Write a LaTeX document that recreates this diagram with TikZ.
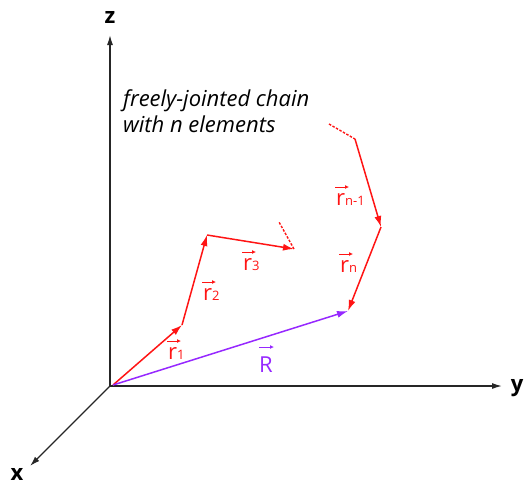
\documentclass[tikz,border=0pt]{standalone}
\usepackage{fontspec}
\setmainfont{Open Sans}
\usepackage{xcolor}
\usetikzlibrary{arrows.meta,positioning,calc}
\definecolor{chainred}{RGB}{255,20,20}
\definecolor{endpurple}{RGB}{150,40,255}
\newcommand{\sub}[1]{{\fontsize{13}{13}\selectfont #1}}

\begin{document}
\begin{tikzpicture}[
  x=1pt, y=-1pt,
  axis/.style={draw=black!85, line width=1.3pt, -{Latex[length=10pt,width=6pt]}},
  bond/.style={draw=chainred, line width=1.5pt, -{Latex[length=11pt,width=7pt]}},
  loose/.style={draw=chainred, line width=1.4pt, dash pattern=on 2.5pt off 1.5pt},
  lab/.style={text=chainred, font=\fontsize{22}{22}\selectfont, inner sep=0pt, anchor=base west},
  vecmark/.style={line width=1pt, -{Latex[length=4pt,width=4pt]}},
  axlab/.style={font=\bfseries\fontsize{22}{22}\selectfont, inner sep=0pt},
]
\useasboundingbox (0,0) rectangle (526,488);

% axes
\coordinate (O) at (110,386);
\coordinate (zend) at (110,35);
\coordinate (yend) at (502,386);
\coordinate (xend) at (30,466);
\draw[axis] (O) -- (zend);
\draw[axis] (O) -- (yend);
\draw[axis] (O) -- (xend);
\node[axlab] (zlab) at (110,17) {z};
\node[axlab] (ylab) at (517,388) {y};
\node[axlab] (xlab) at (17,474) {x};

% chain joints
\coordinate (p0) at (113,385);
\coordinate (p1) at (182,325);
\coordinate (p2) at (207,235);
\coordinate (p3) at (294,249);
\coordinate (q3) at (279,222);
\coordinate (qa) at (329,124);
\coordinate (pa) at (355,139);
\coordinate (pb) at (381,227);
\coordinate (pn) at (348,311);

\draw[bond] (p0) -- (p1);
\draw[bond] (p1) -- (p2);
\draw[bond] (p2) -- (p3);
\draw[loose] (p3) -- (q3);
\draw[loose] (qa) -- (pa);
\draw[bond] (pa) -- (pb);
\draw[bond] (pb) -- (pn);
\draw[draw=endpurple, line width=1.5pt, -{Latex[length=11pt,width=7pt]}] (p0) -- (pn);

% labels
\node[lab] (r1) at (168,359) {r\sub{1}};
\node[lab] (r2) at (203,300) {r\sub{2}};
\node[lab] (r3) at (243,270) {r\sub{3}};
\node[lab] (rn1) at (336,205) {r\sub{n-1}};
\node[lab] (rn) at (340,272) {r\sub{n}};
\node[lab, text=endpurple] (Rv) at (259,372) {R};
\foreach \n in {r1,r2,r3,rn1,rn} {
  \draw[vecmark, chainred] ($(\n.base west)+(-1,-18)$) -- ++(14,0);
}
\draw[vecmark, endpurple] ($(Rv.base west)+(0,-25)$) -- ++(15,0);

\node[anchor=base west, align=left, inner sep=0pt, font=\itshape\fontsize{22}{26}\selectfont] (title) at (123,132)
  {freely-jointed chain\\with n elements};
\end{tikzpicture}
\end{document}
